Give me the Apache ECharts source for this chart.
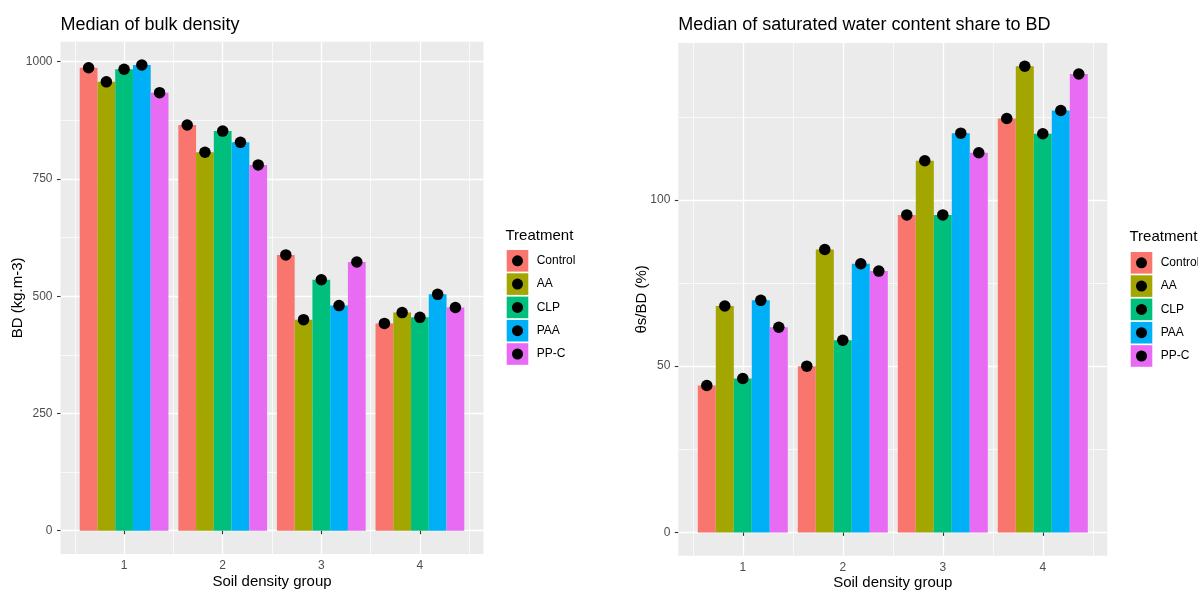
<!DOCTYPE html>
<html><head><meta charset="utf-8">
<script src="https://cdn.jsdelivr.net/npm/echarts@6/dist/echarts.min.js"></script>
<style>html,body{margin:0;padding:0;background:#fff}#c{width:1198px;height:590px}</style>
</head><body><div id="c"></div>
<script>
// ---- data ----
const groups = [1, 2, 3, 4];
const treatments = ['Control', 'AA', 'CLP', 'PAA', 'PP-C'];
const colors = ['#F8766D', '#A3A500', '#00BF7D', '#00B0F6', '#E76BF3'];

// Median of bulk density (kg.m-3)
const bdControl = [987, 865, 588, 442];
const bdAA      = [957, 807, 450, 465];
const bdCLP     = [984, 852, 535, 455];
const bdPAA     = [993, 828, 480, 504];
const bdPPC     = [934, 780, 573, 476];

// Median of saturated water content share to BD (%)
const wcControl = [44.2, 50.0, 95.5, 124.5];
const wcAA      = [68.1, 85.1, 111.8, 140.2];
const wcCLP     = [46.3, 57.8, 95.5, 119.9];
const wcPAA     = [69.8, 80.8, 120.1, 126.9];
const wcPPC     = [61.7, 78.6, 114.2, 137.9];

const bdTicks = [0, 250, 500, 750, 1000];
const bdMinor = [125, 375, 625, 875];
const wcTicks = [0, 50, 100];
const wcMinor = [25, 75, 125];
const xMinor = [0.5, 1.5, 2.5, 3.5, 4.5];

// ---- chart ----
const FONT = 'Liberation Sans, Arial, sans-serif';
const DODGE = 0.9;
const nT = treatments.length;
const xMin = groups[0] - DODGE / 2 - 0.05 * (groups.length - 1 + DODGE);
const xMax = groups[groups.length - 1] + DODGE / 2 + 0.05 * (groups.length - 1 + DODGE);

const chart = echarts.init(document.getElementById('c'), null, {renderer: 'canvas'});

const option = {
  backgroundColor: '#ffffff',
  animation: false,
  textStyle: {fontFamily: FONT},
  title: [],
  legend: [],
  grid: [],
  xAxis: [],
  yAxis: [],
  series: []
};

function plain(v) { return String(v); }

function addPanel(gi, box, seriesVals, ticks, minor, yName, yNameGap, title, legendPos) {
  let dmax = 0;
  seriesVals.forEach(a => a.forEach(v => { dmax = Math.max(dmax, v); }));
  const yMin = -0.05 * dmax, yMax = 1.05 * dmax;

  option.grid.push({
    left: box.left, top: box.top, width: box.width, height: box.height,
    show: true, backgroundColor: '#EBEBEB', borderWidth: 0, containLabel: false, outerBoundsMode: 'none'
  });
  const xi = option.xAxis.length, yi = option.yAxis.length;
  option.xAxis.push({
    gridIndex: gi, type: 'value', min: xMin, max: xMax, position: 'bottom',
    axisLine: {show: false},
    axisTick: {show: true, customValues: groups, length: 3.5, lineStyle: {color: '#333333', width: 1.1}},
    axisLabel: {customValues: groups, formatter: plain, color: '#4D4D4D', fontSize: 12, margin: 6, fontFamily: FONT},
    splitLine: {show: true, lineStyle: {color: '#ffffff', width: 1.3}},
    name: 'Soil density group', nameLocation: 'middle', nameGap: 20, nameMoveOverlap: false,
    nameTextStyle: {color: '#000', fontSize: 15, fontFamily: FONT}
  });
  option.xAxis.push({
    gridIndex: gi, type: 'value', min: xMin, max: xMax, position: 'bottom',
    axisLine: {show: false},
    axisTick: {show: false, customValues: xMinor},
    axisLabel: {show: false, customValues: xMinor},
    splitLine: {show: true, lineStyle: {color: '#ffffff', width: 0.7}}
  });
  option.yAxis.push({
    gridIndex: gi, type: 'value', min: yMin, max: yMax, position: 'left',
    axisLine: {show: false},
    axisTick: {show: true, customValues: ticks, length: 3.5, lineStyle: {color: '#333333', width: 1.1}},
    axisLabel: {customValues: ticks, formatter: plain, color: '#4D4D4D', fontSize: 12, margin: 8, fontFamily: FONT},
    splitLine: {show: true, lineStyle: {color: '#ffffff', width: 1.3}},
    name: yName, nameLocation: 'middle', nameGap: yNameGap, nameMoveOverlap: false,
    nameTextStyle: {color: '#000', fontSize: 15, fontFamily: FONT}
  });
  option.yAxis.push({
    gridIndex: gi, type: 'value', min: yMin, max: yMax, position: 'left',
    axisLine: {show: false},
    axisTick: {show: false, customValues: minor},
    axisLabel: {show: false, customValues: minor},
    splitLine: {show: true, lineStyle: {color: '#ffffff', width: 0.7}}
  });

  seriesVals.forEach((vals, i) => {
    option.series.push({
      type: 'bar', name: treatments[i], xAxisIndex: xi, yAxisIndex: yi,
      data: groups.map((g, j) => [g, vals[j]]),
      barGap: '0%', barCategoryGap: ((1 - DODGE) * 100) + '%',
      itemStyle: {color: colors[i]}, z: 2
    });
  });
  seriesVals.forEach((vals, i) => {
    const off = (i - (nT - 1) / 2) * DODGE / nT;
    option.series.push({
      type: 'scatter', name: treatments[i], xAxisIndex: xi, yAxisIndex: yi,
      data: groups.map((g, j) => [g + off, vals[j]]),
      symbol: 'circle', symbolSize: 11.5,
      itemStyle: {color: '#000000', opacity: 1}, z: 3
    });
  });

  option.title.push({
    text: title, left: box.left, top: 15, padding: 0,
    textStyle: {fontSize: 18, fontWeight: 'normal', color: '#000', fontFamily: FONT, lineHeight: 20}
  });
  option.title.push({
    text: 'Treatment', left: legendPos.titleLeft, top: legendPos.titleTop, padding: 0,
    textStyle: {fontSize: 15, fontWeight: 'normal', color: '#000', fontFamily: FONT, lineHeight: 17}
  });
  option.legend.push({
    orient: 'vertical', left: legendPos.left, top: legendPos.top, padding: 0,
    itemWidth: 21.6, itemHeight: 21.6, itemGap: 1.7, icon: 'rect', selectedMode: false,
    data: treatments.map(n => ({name: n, icon: 'rect'})),
    textStyle: {fontSize: 12, color: '#000', fontFamily: FONT, padding: [0, 0, 0, 3.4]}
  });
  option.legend.push({
    orient: 'vertical', left: legendPos.left + 5.3, top: legendPos.top + 5.3, padding: 0,
    itemWidth: 11, itemHeight: 11, itemGap: 12.3, selectedMode: false,
    data: treatments.map(n => ({name: n, icon: 'circle', itemStyle: {color: '#000000', borderWidth: 0, opacity: 1}})),
    formatter: function () { return ''; },
    textStyle: {fontSize: 6, color: 'rgba(0,0,0,0)'}
  });
}

addPanel(0, {left: 60.5, top: 41.7, width: 423, height: 512.3},
  [bdControl, bdAA, bdCLP, bdPAA, bdPPC], bdTicks, bdMinor,
  'BD (kg.m-3)', 35, 'Median of bulk density',
  {titleLeft: 505.5, titleTop: 227.5, left: 506.7, top: 250});

addPanel(1, {left: 678.3, top: 43, width: 429, height: 512.7},
  [wcControl, wcAA, wcCLP, wcPAA, wcPPC], wcTicks, wcMinor,
  'θs/BD (%)', 29, 'Median of saturated water content share to BD',
  {titleLeft: 1129.5, titleTop: 228, left: 1130.7, top: 252});

chart.setOption(option);
</script>
</body></html>
